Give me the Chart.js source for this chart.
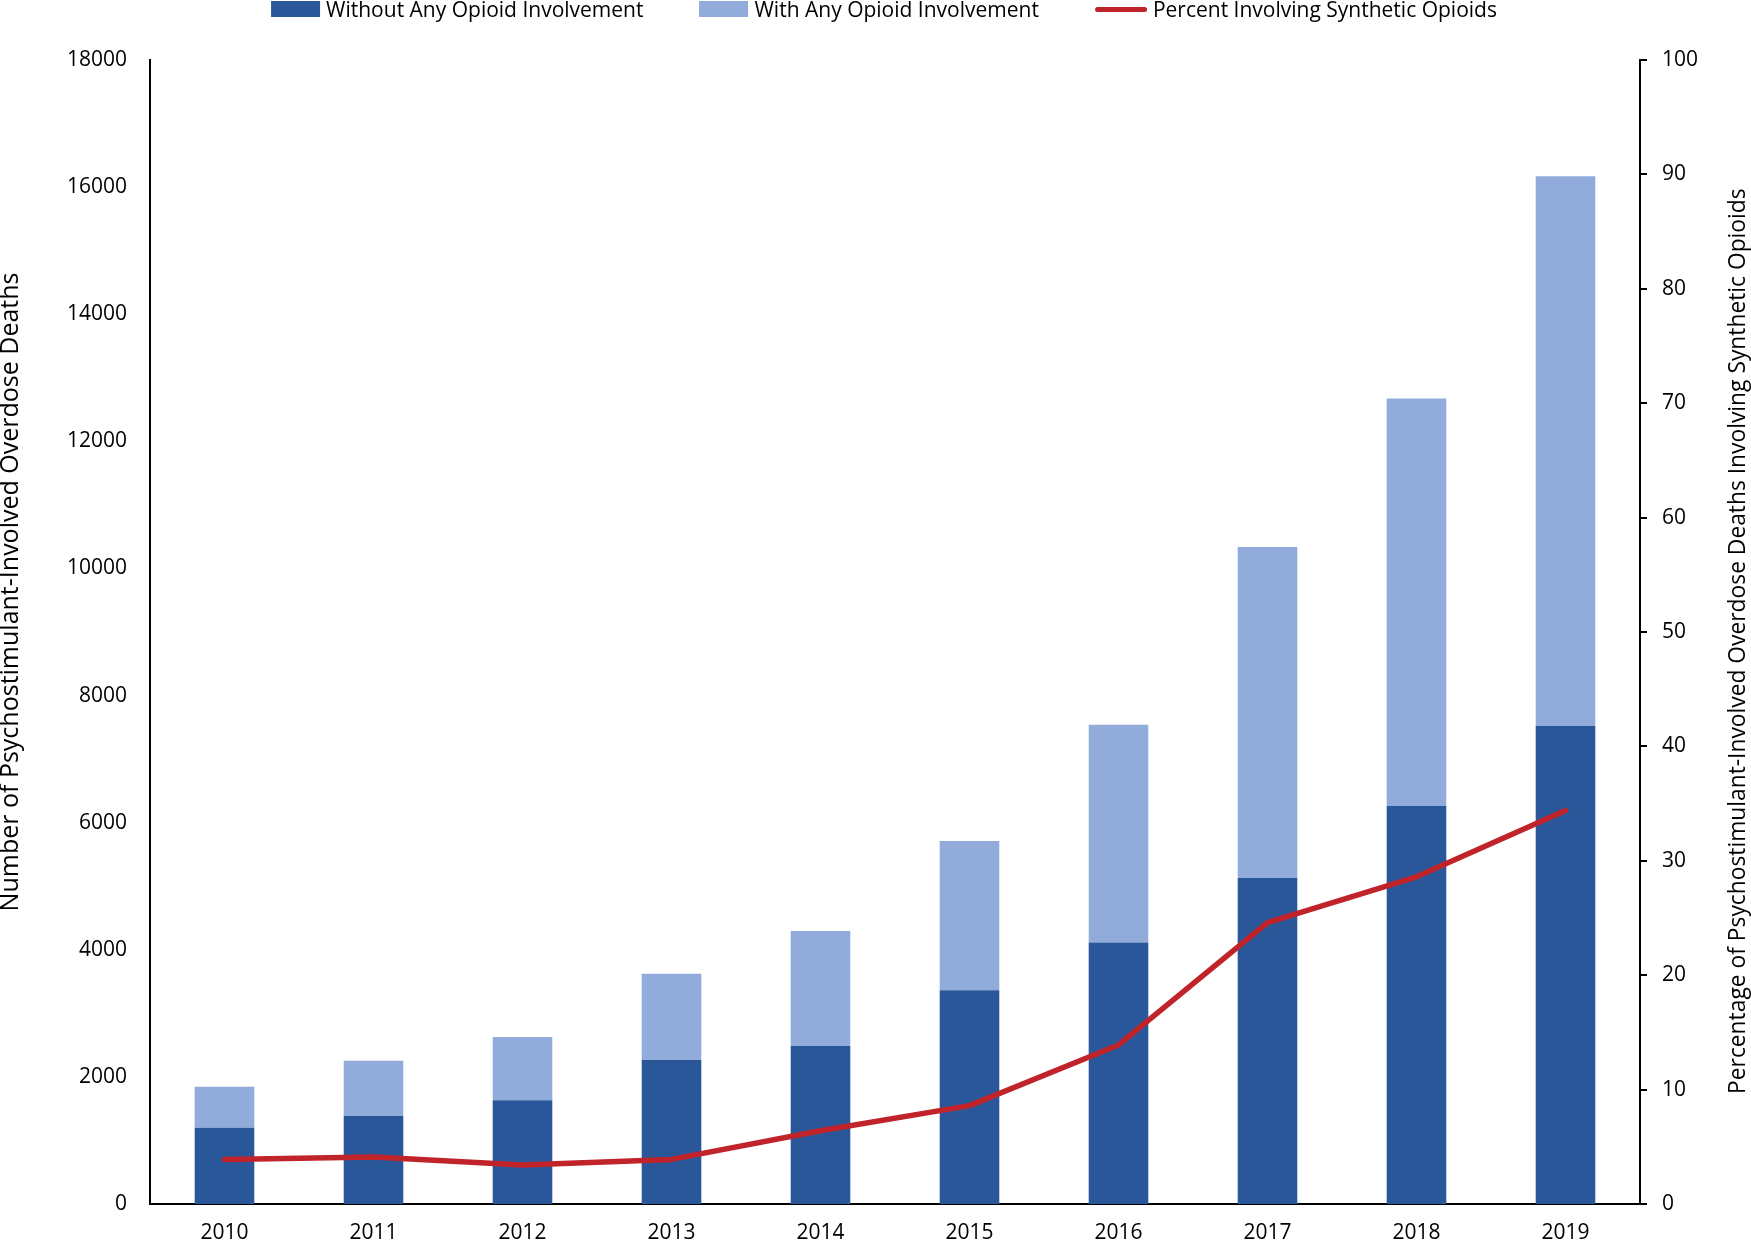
<!DOCTYPE html>
<html>
<head>
<meta charset="utf-8">
<title>Psychostimulant-Involved Overdose Deaths</title>
<script src="https://cdn.jsdelivr.net/npm/chart.js@4.4.1/dist/chart.umd.min.js"></script>
<style>
    html, body { margin: 0; padding: 0; background: #fff; }
    #wrap { position: relative; width: 1751px; height: 1243px; }
    #overdoseChart { position: absolute; left: 0; top: 0; }
    #legend
    {
        position: absolute;
        top: 0;
        left: 884px;
        transform: translateX(-50%);
        display: flex;
        align-items: center;
        height: 18px;
        white-space: nowrap;
        font-family: "Open Sans", sans-serif;
        font-size: 21px;
        color: #000;
    }
    .legend-item { display: flex; align-items: center; margin-right: 56px; }
    .legend-item:last-child { margin-right: 0; }
    .legend-mark { margin-right: 6px; }
</style>
</head>
<body>
<div id="wrap">
    <canvas id="overdoseChart" width="1751" height="1243"></canvas>
    <div id="legend"></div>
</div>
<script>
const years = ['2010', '2011', '2012', '2013', '2014', '2015', '2016', '2017', '2018', '2019'];

// deaths without any opioid (bottom of the stack)
const withoutOpioid = [1201, 1385, 1632, 2266, 2486, 3362, 4114, 5129, 6262, 7521];
// total psychostimulant deaths, the light part is total minus the dark part
const totalDeaths = [1846, 2255, 2628, 3624, 4295, 5713, 7541, 10337, 12674, 16172];
const withOpioid = totalDeaths.map((total, i) => total - withoutOpioid[i]);

// percent involving synthetic opioids (right axis)
const percentSynthetic = [3.9, 4.1, 3.4, 3.9, 6.4, 8.6, 13.9, 24.6, 28.6, 34.4];

const leftTicks = [0, 2000, 4000, 6000, 8000, 10000, 12000, 14000, 16000, 18000];
const rightTicks = [0, 10, 20, 30, 40, 50, 60, 70, 80, 90, 100];

const leftTitle = 'Number of Psychostimulant-Involved Overdose Deaths';
const rightTitle = 'Percentage of Psychostimulant-Involved Overdose Deaths Involving Synthetic Opioids';

const darkBlue = '#2A5799';
const lightBlue = '#91ACDB';
const red = '#C1232B';
const fontFamily = '"Open Sans", sans-serif';

function prepareChartData()
{
    return {
        labels: years,
        datasets: [
            {
                type: 'bar',
                label: 'Without Any Opioid Involvement',
                data: withoutOpioid,
                backgroundColor: darkBlue,
                yAxisID: 'y',
                stack: 'deaths',
                order: 1,
                barPercentage: 0.4,
                categoryPercentage: 1
            },
            {
                type: 'bar',
                label: 'With Any Opioid Involvement',
                data: withOpioid,
                backgroundColor: lightBlue,
                yAxisID: 'y',
                stack: 'deaths',
                order: 1,
                barPercentage: 0.4,
                categoryPercentage: 1
            },
            {
                type: 'line',
                label: 'Percent Involving Synthetic Opioids',
                data: percentSynthetic,
                borderColor: red,
                backgroundColor: red,
                borderWidth: 5.5,
                borderCapStyle: 'round',
                borderJoinStyle: 'round',
                tension: 0,
                pointRadius: 0,
                yAxisID: 'y2',
                order: 0
            }
        ]
    };
}

function drawVerticalText(ctx, text, x, y, font)
{
    ctx.save();
    ctx.fillStyle = '#000';
    ctx.textAlign = 'center';
    ctx.textBaseline = 'middle';
    ctx.font = font;
    ctx.translate(x, y);
    ctx.rotate(-Math.PI / 2);
    ctx.fillText(text, 0, 0);
    ctx.restore();
}

// both axis titles read bottom to top, which Chart.js doesn't do for a right axis
const axisTitles = {
    id: 'axisTitles',
    afterDraw(chart)
    {
        const area = chart.chartArea;
        const h = area.bottom - area.top;
        drawVerticalText(chart.ctx, leftTitle, 11, area.top + h * 0.465, '25px ' + fontFamily);
        drawVerticalText(chart.ctx, rightTitle, chart.width - 12, area.top + h * 0.508, '22.8px ' + fontFamily);
    }
};

function renderLegend(chart)
{
    const legend = document.getElementById('legend');
    chart.data.datasets.forEach(ds =>
    {
        const item = document.createElement('div');
        item.className = 'legend-item';

        const mark = document.createElement('span');
        mark.className = 'legend-mark';
        if (ds.type === 'line')
        {
            mark.style.cssText = 'display:inline-block;width:52px;height:5px;border-radius:3px;background:' + ds.borderColor;
        }
        else
        {
            mark.style.cssText = 'display:inline-block;width:49px;height:16px;background:' + ds.backgroundColor;
        }

        const text = document.createElement('span');
        text.textContent = ds.label;

        item.appendChild(mark);
        item.appendChild(text);
        legend.appendChild(item);
    });
}

function renderChart(data)
{
    const ctx = document.getElementById('overdoseChart').getContext('2d');
    return new Chart(ctx, {
        data: data,
        plugins: [axisTitles],
        options: {
            responsive: false,
            animation: false,
            layout: {
                padding: {top: 60, left: 0, right: 0, bottom: 0}
            },
            plugins: {
                legend: {display: false},
                tooltip: {enabled: false}
            },
            scales: {
                x: {
                    stacked: true,
                    afterFit: scale => { scale.height = 39; },
                    grid: {display: false, drawTicks: false},
                    border: {display: true, color: '#000', width: 2},
                    ticks: {
                        color: '#000',
                        padding: 19,
                        maxRotation: 0,
                        font: {family: fontFamily, size: 21, lineHeight: 1}
                    }
                },
                y: {
                    position: 'left',
                    stacked: true,
                    min: 0,
                    max: 18000,
                    afterFit: scale => { scale.width = 150; },
                    afterBuildTicks: scale => { scale.ticks = leftTicks.map(v => ({value: v})); },
                    grid: {display: false, drawTicks: false},
                    border: {display: true, color: '#000', width: 2},
                    ticks: {
                        color: '#000',
                        padding: 23,
                        font: {family: fontFamily, size: 21},
                        callback: value => String(value)
                    }
                },
                y2: {
                    position: 'right',
                    min: 0,
                    max: 100,
                    afterFit: scale => { scale.width = 111; },
                    afterBuildTicks: scale => { scale.ticks = rightTicks.map(v => ({value: v})); },
                    grid: {
                        display: true,
                        drawOnChartArea: false,
                        drawTicks: true,
                        tickLength: 7,
                        color: '#000',
                        lineWidth: 2
                    },
                    border: {display: true, color: '#000', width: 2},
                    ticks: {
                        color: '#000',
                        padding: 15,
                        font: {family: fontFamily, size: 21},
                        callback: value => String(value)
                    }
                }
            }
        }
    });
}

const chart = renderChart(prepareChartData());
renderLegend(chart);
</script>
</body>
</html>
